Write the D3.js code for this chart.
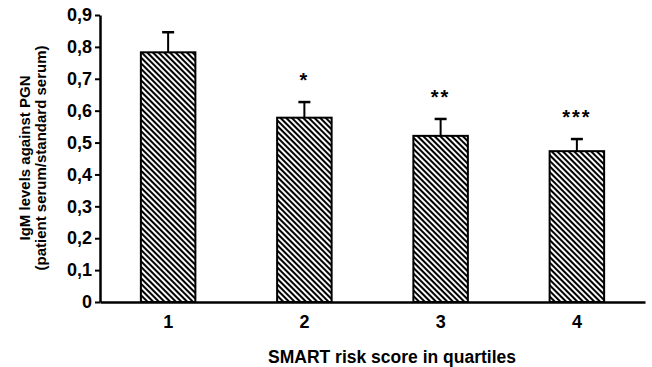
<!DOCTYPE html>
<html>
<head>
<meta charset="utf-8">
<script src="https://cdn.jsdelivr.net/npm/d3@7"></script>
<style>
  body { margin: 0; background: #fff; }
  text { font-family: Arial, "Liberation Sans", sans-serif; font-weight: bold; fill: #000; }
</style>
</head>
<body>
<div id="chart"></div>
<script>
const categories = ["1", "2", "3", "4"];
const means = [0.783, 0.578, 0.521, 0.473];
const upperErrors = [0.846, 0.627, 0.574, 0.511];
const stars = ["", "*", "**", "***"];
const yTicks = [0, 0.1, 0.2, 0.3, 0.4, 0.5, 0.6, 0.7, 0.8, 0.9];

const width = 652;
const height = 367;

const svg = d3.select("#chart")
  .append("svg")
  .attr("width", width)
  .attr("height", height);

// hatch fill
const defs = svg.append("defs");
const pat = defs.append("pattern")
  .attr("id", "hatch")
  .attr("patternUnits", "userSpaceOnUse")
  .attr("width", 4)
  .attr("height", 4)
  .attr("patternTransform", "rotate(45)");
pat.append("rect").attr("width", 4).attr("height", 4).attr("fill", "#fff");
pat.append("line")
  .attr("x1", 0).attr("y1", 1).attr("x2", 4).attr("y2", 1)
  .attr("stroke", "#000").attr("stroke-width", 2.1);

const x = d3.scaleBand().domain(categories).range([100, 645]).paddingInner(0.6).paddingOuter(0.3);
const y = d3.scaleLinear().domain([0, 0.9]).range([302, 15]);

const fmt = d => d === 0 ? "0" : d3.format(".1f")(d).replace(".", ",");

// y axis
const yAxis = svg.append("g")
  .attr("transform", "translate(100,0)")
  .call(d3.axisLeft(y).tickValues(yTicks).tickFormat(fmt).tickSize(5).tickSizeOuter(0));
yAxis.select(".domain").attr("stroke-width", 2.5);
yAxis.selectAll(".tick line").attr("stroke-width", 2);
yAxis.selectAll(".tick text")
  .attr("x", -8)
  .style("font-size", "18px")
  .style("font-family", "Arial, 'Liberation Sans', sans-serif")
  .style("font-weight", "bold");

// bars
svg.selectAll("rect.bar")
  .data(categories)
  .join("rect")
  .attr("class", "bar")
  .attr("x", d => x(d))
  .attr("width", x.bandwidth())
  .attr("y", (d, i) => y(means[i]))
  .attr("height", (d, i) => y(0) - y(means[i]))
  .attr("fill", "url(#hatch)")
  .attr("stroke", "#000")
  .attr("stroke-width", 2);

// error bars (upper only)
const err = svg.append("g");
categories.forEach((c, i) => {
  const cx = x(c) + x.bandwidth() / 2;
  err.append("line")
    .attr("x1", cx).attr("x2", cx)
    .attr("y1", y(means[i])).attr("y2", y(upperErrors[i]))
    .attr("stroke", "#000").attr("stroke-width", 2);
  err.append("line")
    .attr("x1", cx - 6).attr("x2", cx + 6)
    .attr("y1", y(upperErrors[i])).attr("y2", y(upperErrors[i]))
    .attr("stroke", "#000").attr("stroke-width", 2.5);
});

// significance stars
svg.selectAll("text.star")
  .data(categories)
  .join("text")
  .attr("class", "star")
  .attr("x", d => x(d) + x.bandwidth() / 2)
  .attr("y", (d, i) => y(upperErrors[i]) - 15)
  .attr("text-anchor", "middle")
  .style("font-size", "20px")
  .style("letter-spacing", "2px")
  .text((d, i) => stars[i]);

// x axis
const xAxis = svg.append("g")
  .attr("transform", "translate(0,302)")
  .call(d3.axisBottom(x).tickSize(0).tickSizeOuter(0));
xAxis.select(".domain").attr("stroke-width", 2.5);
xAxis.selectAll(".tick text")
  .attr("dy", "1.25em")
  .style("font-size", "18px")
  .style("font-family", "Arial, 'Liberation Sans', sans-serif")
  .style("font-weight", "bold");

// axis titles
svg.append("text")
  .attr("x", 392)
  .attr("y", 363)
  .attr("text-anchor", "middle")
  .style("font-size", "17.5px")
  .text("SMART risk score in quartiles");

const yTitle = svg.append("text")
  .attr("transform", "translate(0,158) rotate(-90)")
  .attr("text-anchor", "middle")
  .style("font-size", "15px");
yTitle.append("tspan").attr("x", 0).attr("y", 30).text("IgM levels against PGN");
yTitle.append("tspan").attr("x", 0).attr("y", 46).text("(patient serum/standard serum)");
</script>
</body>
</html>
